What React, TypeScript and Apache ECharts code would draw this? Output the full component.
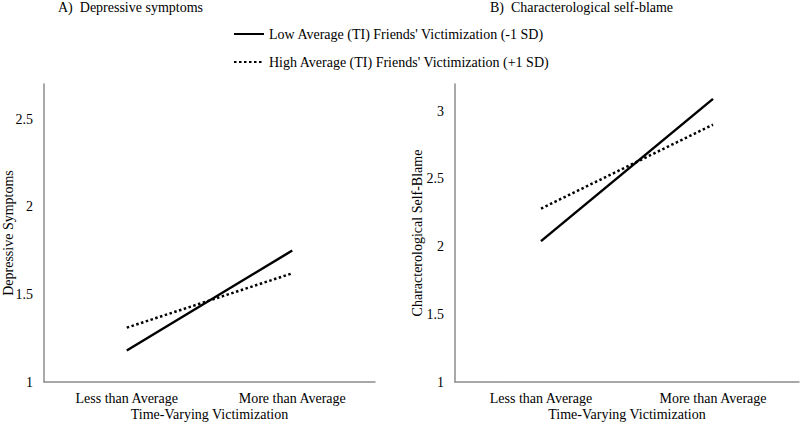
import React, { useEffect, useRef } from "react";
import * as echarts from "echarts";

const categories = ["Less than Average", "More than Average"];
const seriesNames = [
  "Low Average (TI) Friends' Victimization (-1 SD)",
  "High Average (TI) Friends' Victimization (+1 SD)",
];
const depressiveLow = [1.18, 1.75];
const depressiveHigh = [1.31, 1.62];
const blameLow = [2.04, 3.09];
const blameHigh = [2.28, 2.9];
const panelTitles = ["A)\u00a0 Depressive symptoms", "B)\u00a0 Characterological self-blame"];
const yNames = ["Depressive Symptoms", "Characterological Self-Blame"];
const xName = "Time-Varying Victimization";

const FONT = "'Liberation Serif', 'Times New Roman', serif";

export default function App() {
  const ref = useRef<HTMLDivElement>(null);
  useEffect(() => {
    if (!ref.current) return;
    const chart = echarts.init(ref.current, null, { renderer: "svg" });
    const axisLine = { show: true, lineStyle: { color: "#8c8c8c", width: 1.5 } };
    const textStyle = { fontFamily: FONT, fontSize: 14, color: "#000" };
    const xAxisBase = {
      type: "category" as const,
      data: categories,
      boundaryGap: true,
      axisLine,
      axisTick: { show: false },
      axisLabel: { ...textStyle, margin: 9 },
      name: xName,
      nameLocation: "middle" as const,
      nameGap: 25,
      nameMoveOverlap: false,
      nameTextStyle: textStyle,
    };
    const yAxisBase = {
      type: "value" as const,
      min: 1,
      interval: 0.5,
      axisLine,
      axisTick: { show: false },
      splitLine: { show: false },
      nameLocation: "middle" as const,
      nameMoveOverlap: false,
    };
    const solid = { color: "#000", width: 2.5, type: "solid" as const };
    const dotted = { color: "#000", width: 2.5, type: [2.5, 2.5] as any };
    const mk = (name: string, data: number[], idx: number, ls: any) => ({
      type: "line" as const,
      name,
      data,
      xAxisIndex: idx,
      yAxisIndex: idx,
      symbol: "none",
      showSymbol: false,
      lineStyle: ls,
      itemStyle: { color: "#000" },
    });
    chart.setOption({
      animation: false,
      backgroundColor: "#fff",
      title: [
        { text: panelTitles[0], left: 58, top: 0, padding: 0, textStyle: { ...textStyle, fontWeight: "normal" } },
        { text: panelTitles[1], left: 490, top: 0, padding: 0, textStyle: { ...textStyle, fontWeight: "normal" } },
      ],
      legend: {
        orient: "vertical",
        left: 228,
        top: 22,
        itemWidth: 30,
        itemHeight: 14,
        itemGap: 14,
        itemStyle: { opacity: 0 },
        textStyle: { ...textStyle },
        data: seriesNames,
      },
      grid: [
        { left: 44, right: 425, top: 84, bottom: 42, outerBoundsMode: "none", containLabel: false },
        { left: 455, right: 1, top: 84, bottom: 42, outerBoundsMode: "none", containLabel: false },
      ],
      xAxis: [
        { ...xAxisBase, gridIndex: 0 },
        { ...xAxisBase, gridIndex: 1 },
      ],
      yAxis: [
        {
          ...yAxisBase,
          gridIndex: 0,
          max: 2.7,
          name: yNames[0],
          nameGap: 29,
          nameTextStyle: { ...textStyle, lineHeight: 14 },
          axisLabel: { ...textStyle, margin: 11, showMaxLabel: false },
        },
        {
          ...yAxisBase,
          gridIndex: 1,
          max: 3.2,
          name: yNames[1],
          nameGap: 31,
          nameTextStyle: { ...textStyle, lineHeight: 14 },
          axisLabel: { ...textStyle, margin: 11, showMaxLabel: false },
        },
      ],
      series: [
        mk(seriesNames[0], depressiveLow, 0, solid),
        mk(seriesNames[1], depressiveHigh, 0, dotted),
        mk(seriesNames[0], blameLow, 1, solid),
        mk(seriesNames[1], blameHigh, 1, dotted),
      ],
    });
    return () => chart.dispose();
  }, []);
  return (
    <div
      ref={ref}
      style={{ position: "absolute", left: 0, top: 0, width: 800, height: 424, background: "#fff" }}
    />
  );
}
